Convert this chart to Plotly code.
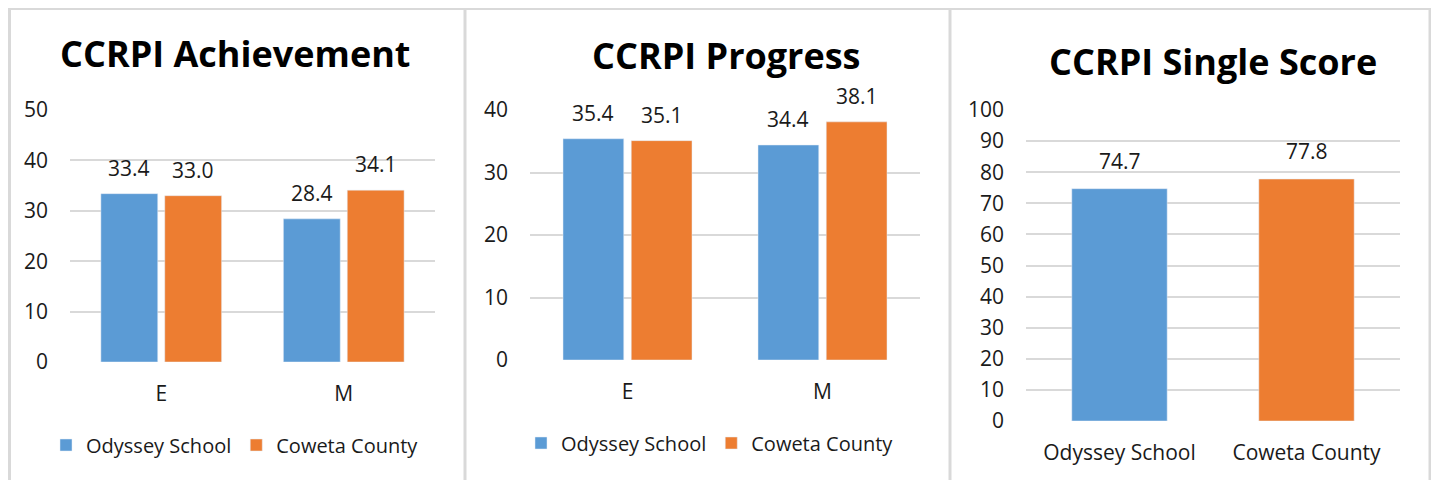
import plotly.graph_objects as go

# data
grades = ["E", "M"]
ach_odyssey = [33.4, 28.4]
ach_coweta = [33.0, 34.1]
prog_odyssey = [35.4, 34.4]
prog_coweta = [35.1, 38.1]
single_names = ["Odyssey School", "Coweta County"]
single_scores = [74.7, 77.8]

titles = ["CCRPI Achievement", "CCRPI Progress", "CCRPI Single Score"]

BLUE = "#5B9BD5"
ORANGE = "#ED7D31"
GRID = "#D9D9D9"
TXT = "#1a1a1a"
FONT = "Open Sans"

# page has an 8px body margin, so the figure is shrunk to fit and positions are page pixels
OFF = 8
W, H = 1439 - OFF, 480 - OFF

def px(x):
    return (x - OFF) / W

def py(y):
    return 1 - (y - OFF) / H

fig = go.Figure()

# panel 1 - achievement
fig.add_trace(go.Bar(x=grades, y=ach_odyssey, name="Odyssey School", marker_color=BLUE,
                     xaxis="x", yaxis="y", legend="legend"))
fig.add_trace(go.Bar(x=grades, y=ach_coweta, name="Coweta County", marker_color=ORANGE,
                     xaxis="x", yaxis="y", legend="legend"))
# panel 2 - progress
fig.add_trace(go.Bar(x=grades, y=prog_odyssey, name="Odyssey School", marker_color=BLUE,
                     xaxis="x2", yaxis="y2", legend="legend2"))
fig.add_trace(go.Bar(x=grades, y=prog_coweta, name="Coweta County", marker_color=ORANGE,
                     xaxis="x2", yaxis="y2", legend="legend2"))
# panel 3 - single score
fig.add_trace(go.Bar(x=single_names, y=single_scores, marker_color=[BLUE, ORANGE],
                     xaxis="x3", yaxis="y3", showlegend=False, width=0.51))

# data labels as annotations so the gap above the bar matches
bargap = 0.30
off = (1 - bargap) / 4
annots = []
for i in range(2):
    for vals, dx, ax in [(ach_odyssey, -off, "1"), (ach_coweta, off, "1"),
                         (prog_odyssey, -off, "2"), (prog_coweta, off, "2")]:
        sfx = "" if ax == "1" else ax
        annots.append(dict(x=i + dx, y=vals[i], xref="x" + sfx, yref="y" + sfx,
                           text=f"{vals[i]:.1f}", showarrow=False, yanchor="bottom",
                           yshift=10, font=dict(size=21, color=TXT, family=FONT)))
for i, v in enumerate(single_scores):
    annots.append(dict(x=i, y=v, xref="x3", yref="y3", text=f"{v:.1f}", showarrow=False,
                       yanchor="bottom", yshift=12, font=dict(size=21, color=TXT, family=FONT)))

# titles
for t, cx, cy in zip(titles, [235, 727, 1213], [54, 56, 61]):
    annots.append(dict(x=px(cx), y=py(cy), xref="paper", yref="paper", text=f"<b>{t}</b>",
                       showarrow=False, xanchor="center", yanchor="middle",
                       font=dict(size=36, color="#000000", family=FONT)))

# panel borders
shapes = [
    dict(type="line", xref="paper", yref="paper", x0=px(9), x1=px(1431), y0=py(9), y1=py(9),
         line=dict(color=GRID, width=2)),
]
for x in [9.5, 465, 950, 1430]:
    shapes.append(dict(type="line", xref="paper", yref="paper", x0=px(x), x1=px(x), y0=py(8), y1=0,
                       line=dict(color=GRID, width=3)))

tick_font = dict(size=21, color=TXT, family=FONT)
xax_common = dict(showline=False, zeroline=False, automargin=False, showgrid=False,
                  tickfont=tick_font, ticklabelstandoff=17)
yax_common = dict(showline=False, zeroline=False, automargin=False, showgrid=True,
                  gridcolor=GRID, gridwidth=2, tickfont=tick_font, ticklabelstandoff=21, dtick=10)

fig.update_layout(
    width=W, height=H,
    margin=dict(l=0, r=0, t=0, b=0, pad=0, autoexpand=False),
    paper_bgcolor="white", plot_bgcolor="white",
    barmode="group", bargap=bargap, bargroupgap=0.11,
    font=dict(family=FONT, color=TXT),
    xaxis=dict(xax_common, domain=[px(70), px(435)], anchor="y"),
    yaxis=dict(yax_common, domain=[py(362), py(110)], range=[0, 50], anchor="x"),
    xaxis2=dict(xax_common, domain=[px(530), px(920)], anchor="y2"),
    yaxis2=dict(yax_common, domain=[py(360), py(110)], range=[0, 40], anchor="x2"),
    xaxis3=dict(xax_common, domain=[px(1026), px(1400)], anchor="y3"),
    yaxis3=dict(yax_common, domain=[py(421), py(110)], range=[0, 100], anchor="x3"),
    legend=dict(orientation="h", x=px(235), y=py(445), xanchor="center", yanchor="middle",
                font=dict(size=20, color=TXT, family=FONT)),
    legend2=dict(orientation="h", x=px(710), y=py(443), xanchor="center", yanchor="middle",
                 font=dict(size=20, color=TXT, family=FONT)),
    annotations=annots,
    shapes=shapes,
)

fig.write_html("out.html")
